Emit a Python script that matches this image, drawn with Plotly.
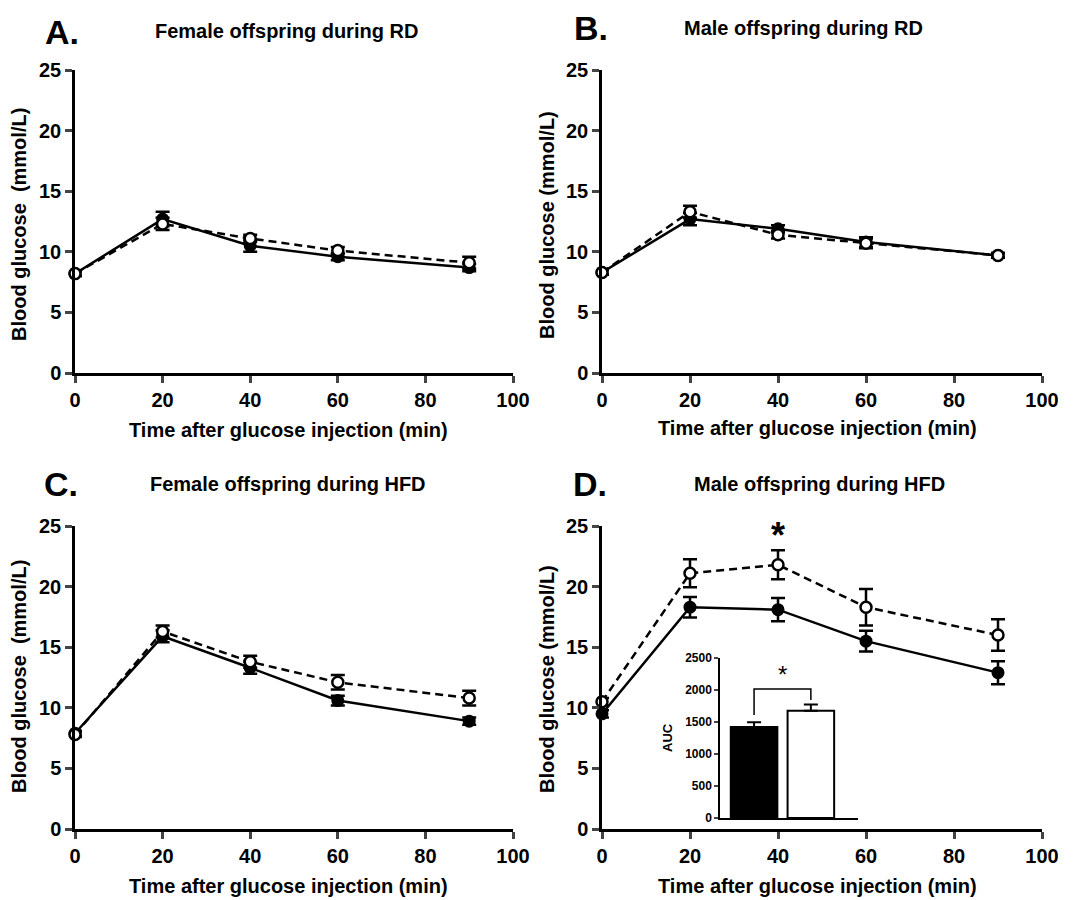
import plotly.graph_objects as go

# Sampling times (min)
time_min = [0, 20, 40, 60, 90]

# Panel A: female offspring, regular diet
a_ctrl = [8.2, 12.7, 10.5, 9.6, 8.7]
a_ctrl_err = [0.2, 0.6, 0.5, 0.3, 0.3]
a_trt = [8.2, 12.3, 11.1, 10.1, 9.1]
a_trt_err = [0.2, 0.5, 0.3, 0.3, 0.5]

# Panel B: male offspring, regular diet
b_ctrl = [8.3, 12.7, 11.9, 10.8, 9.7]
b_ctrl_err = [0.2, 0.5, 0.3, 0.4, 0.2]
b_trt = [8.3, 13.3, 11.4, 10.7, 9.7]
b_trt_err = [0.2, 0.5, 0.3, 0.4, 0.2]

# Panel C: female offspring, high-fat diet
c_ctrl = [7.9, 15.9, 13.3, 10.6, 8.9]
c_ctrl_err = [0.2, 0.5, 0.5, 0.4, 0.3]
c_trt = [7.8, 16.3, 13.8, 12.1, 10.8]
c_trt_err = [0.2, 0.5, 0.5, 0.6, 0.6]

# Panel D: male offspring, high-fat diet
d_ctrl = [9.5, 18.3, 18.1, 15.5, 12.9]
d_ctrl_err = [0.3, 0.85, 0.95, 0.85, 0.95]
d_trt = [10.5, 21.1, 21.8, 18.3, 16.0]
d_trt_err = [0.3, 1.15, 1.2, 1.5, 1.3]

# Inset: area under the curve, panel D
auc_groups = ["Control", "Treated"]
auc_vals = [1420, 1675]
auc_err = [75, 100]

y_ticks = [0, 5, 10, 15, 20, 25]
x_ticks = [0, 20, 40, 60, 80, 100]
auc_ticks = [0, 500, 1000, 1500, 2000, 2500]

W, H = 1079, 900
FONT = "Liberation Sans, Arial, sans-serif"


def px_x(p):
    return p / W


def px_y(p):
    return 1 - p / H


panels = [
    # (axis suffix, x px span, y px span, ctrl, ctrl_err, trt, trt_err)
    ("", (75, 513), (70, 373), a_ctrl, a_ctrl_err, a_trt, a_trt_err),
    ("2", (602, 1042), (70, 373), b_ctrl, b_ctrl_err, b_trt, b_trt_err),
    ("3", (75, 513), (526, 829), c_ctrl, c_ctrl_err, c_trt, c_trt_err),
    ("4", (602, 1042), (526, 829), d_ctrl, d_ctrl_err, d_trt, d_trt_err),
]

fig = go.Figure()
layout = {}
tick_font = dict(family=FONT, size=20, color="black", weight="bold")

for suf, (x0, x1), (y0, y1), ctrl, ctrl_e, trt, trt_e in panels:
    xa, ya = "x" + suf, "y" + suf
    fig.add_trace(go.Scatter(
        x=time_min, y=ctrl, xaxis=xa, yaxis=ya, mode="lines+markers",
        name="Control", showlegend=False, cliponaxis=False,
        line=dict(color="black", width=2.5),
        marker=dict(symbol="circle", size=11, color="black",
                    line=dict(color="black", width=2)),
        error_y=dict(type="data", array=ctrl_e, color="black",
                     thickness=2.5, width=7),
    ))
    fig.add_trace(go.Scatter(
        x=time_min, y=trt, xaxis=xa, yaxis=ya, mode="lines+markers",
        name="Treated", showlegend=False, cliponaxis=False,
        line=dict(color="black", width=2.5, dash="8px,5px"),
        marker=dict(symbol="circle", size=11, color="white",
                    line=dict(color="black", width=2.5)),
        error_y=dict(type="data", array=trt_e, color="black",
                     thickness=2.5, width=7),
    ))
    layout["xaxis" + suf] = dict(
        domain=[px_x(x0), px_x(x1)], range=[0, 100], anchor=ya,
        tickvals=x_ticks, ticks="outside", ticklen=7, tickwidth=2.5,
        showline=True, linewidth=2.5, linecolor="black", showgrid=False,
        zeroline=False, tickfont=tick_font, automargin=False,
    )
    layout["yaxis" + suf] = dict(
        domain=[px_y(y1), px_y(y0)], range=[0, 25], anchor=xa,
        tickvals=y_ticks, ticks="outside", ticklen=7, tickwidth=2.5,
        showline=True, linewidth=2.5, linecolor="black", showgrid=False,
        zeroline=False, tickfont=tick_font, automargin=False,
    )

# AUC inset bars
fig.add_trace(go.Bar(
    x=auc_groups, y=auc_vals, xaxis="x5", yaxis="y5", width=0.82,
    marker=dict(color=["black", "white"], line=dict(color="black", width=2)),
    error_y=dict(type="data", array=auc_err, arrayminus=[0, 0],
                 symmetric=False, color="black", thickness=2, width=7),
    showlegend=False,
))

# significance bracket between the two AUC bars
br_top = 2016
fig.add_trace(go.Scatter(
    x=[auc_groups[0], auc_groups[0], auc_groups[1], auc_groups[1]],
    y=[auc_vals[0] + 190, br_top, br_top, auc_vals[1] + auc_err[1] + 70],
    xaxis="x5", yaxis="y5", mode="lines", showlegend=False,
    line=dict(color="black", width=1.5), cliponaxis=False,
))

layout["xaxis5"] = dict(
    domain=[px_x(720), px_x(858)], range=[-0.6, 1.83], anchor="y5",
    showticklabels=False, ticks="", showline=True, linewidth=1.5,
    linecolor="black", showgrid=False, zeroline=False, automargin=False,
)
layout["yaxis5"] = dict(
    domain=[px_y(818), px_y(658)], range=[0, 2500], anchor="x5",
    tickvals=auc_ticks, ticks="outside", ticklen=4, tickwidth=1.5,
    showline=True, linewidth=1.5, linecolor="black", showgrid=False,
    zeroline=False, automargin=False,
    tickfont=dict(family=FONT, size=12, color="black", weight="bold"),
)

annotations = []


def add_text(text, x, y, size, bold=True, angle=0):
    annotations.append(dict(
        text=f"<b>{text}</b>" if bold else text, x=px_x(x), y=px_y(y),
        xref="paper", yref="paper", showarrow=False, textangle=angle,
        xanchor="center", yanchor="middle",
        font=dict(family=FONT, size=size, color="black"),
    ))


# panel letters
add_text("A.", 62, 32, 34)
add_text("B.", 591, 28, 34)
add_text("C.", 61, 484, 34)
add_text("D.", 590, 484, 34)

# panel titles
add_text("Female offspring during RD", 286, 31, 20)
add_text("Male offspring during RD", 803, 28, 20)
add_text("Female offspring during HFD", 288, 484, 20)
add_text("Male offspring during HFD", 819, 484, 20)

# x axis titles
xt = "Time after glucose injection (min)"
add_text(xt, 288, 430, 20)
add_text(xt, 817, 428, 20)
add_text(xt, 288, 886, 20)
add_text(xt, 817, 886, 20)

# y axis titles
add_text("Blood glucose  (mmol/L)", 19, 225, 20, angle=-90)
add_text("Blood glucose (mmol/L)", 547, 225, 20, angle=-90)
add_text("Blood glucose  (mmol/L)", 19, 677, 20, angle=-90)
add_text("Blood glucose (mmol/L)", 547, 679, 20, angle=-90)

# inset axis title
add_text("AUC", 667, 738, 13, angle=-90)

# significance marks
annotations.append(dict(
    text="<b>*</b>", x=40, y=24.2, xref="x4", yref="y4", showarrow=False,
    xanchor="center", yanchor="middle",
    font=dict(family=FONT, size=36, color="black"),
))
annotations.append(dict(
    text="*", x=0.5, y=br_top + 220, xref="x5", yref="y5", showarrow=False,
    xanchor="center", yanchor="middle",
    font=dict(family=FONT, size=24, color="black"),
))

fig.update_layout(
    width=W, height=H,
    margin=dict(l=0, r=0, t=0, b=0, autoexpand=False),
    paper_bgcolor="white", plot_bgcolor="rgba(0,0,0,0)",
    showlegend=False, annotations=annotations, **layout,
)

fig.write_html("out.html")
